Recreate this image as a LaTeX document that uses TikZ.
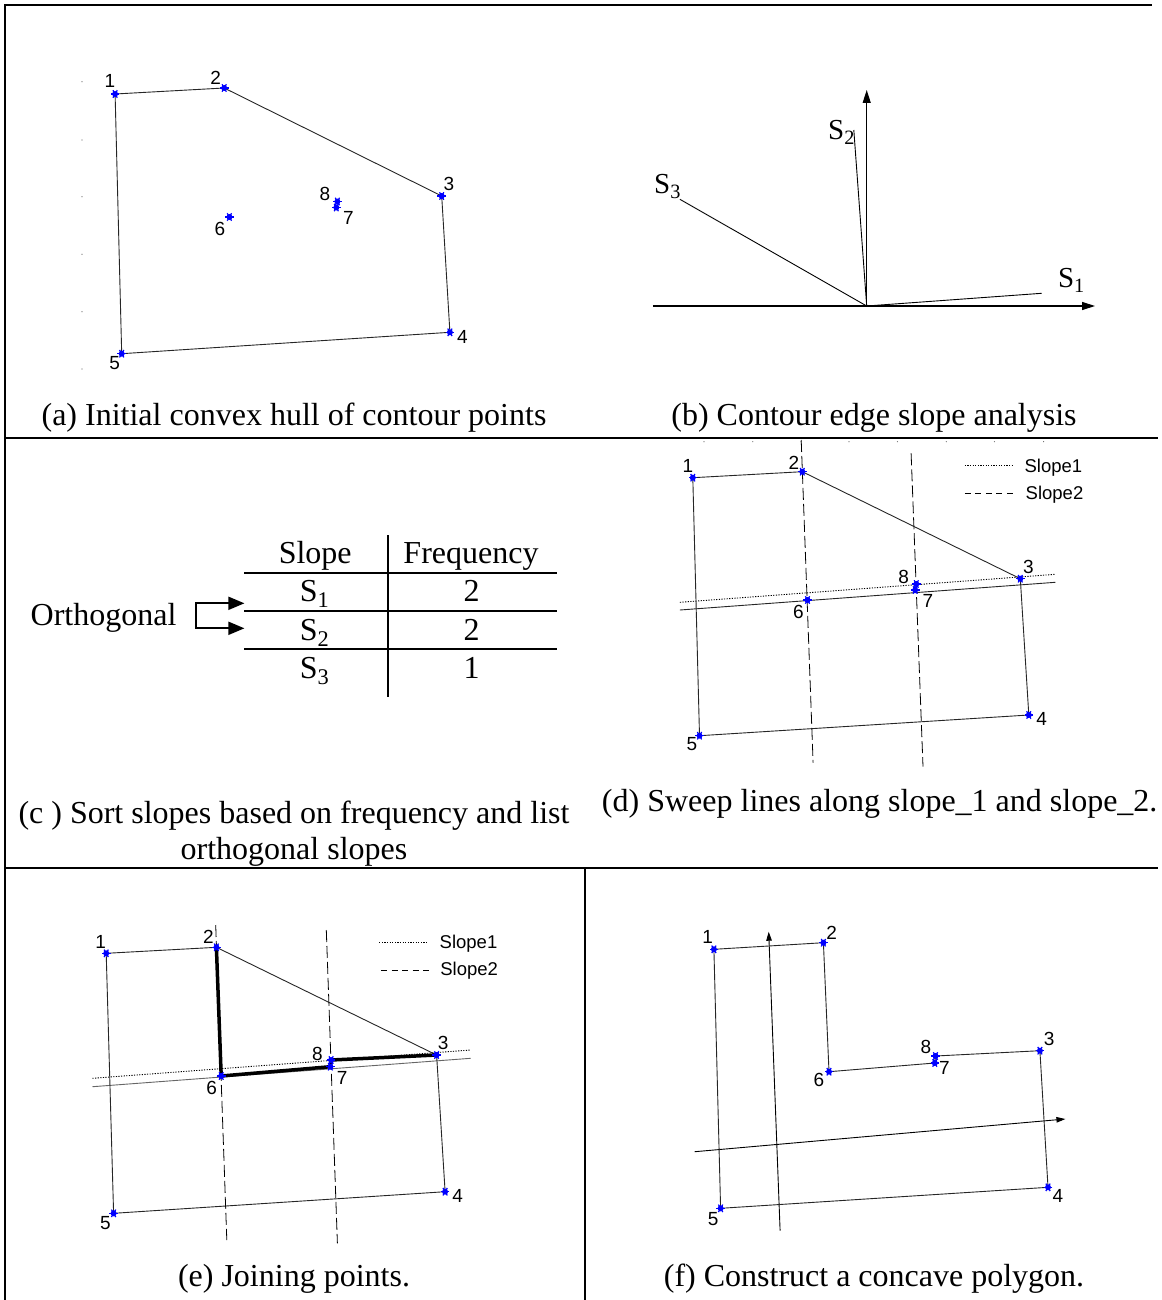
\documentclass[tikz,border=0pt]{standalone}
\usepackage{fontspec}
\setmainfont{Liberation Serif}
\newfontfamily\arialf{Liberation Sans}
\usetikzlibrary{arrows.meta,calc}
\tikzset{
  framel/.style={line width=2pt, black},
  hull/.style={line width=0.9pt, black!85},
  sweepdash/.style={line width=0.8pt, black, dash pattern=on 12pt off 4pt},
  slopedot/.style={line width=0.9pt, black, dash pattern=on 1.2pt off 1.4pt},
  legdash/.style={line width=0.9pt, black, dash pattern=on 6pt off 4.5pt},
  slopesolid/.style={line width=0.9pt, black!85},
  joinline/.style={line width=3.5pt, black},
  ptlab/.style={font=\arialf\fontsize{19}{19}\selectfont, inner sep=0pt},
  leglab/.style={font=\arialf\fontsize{18.5}{18.5}\selectfont, inner sep=0pt, anchor=base west},
  captxt/.style={font=\fontsize{32}{36}\selectfont, inner sep=0pt, anchor=base},
  tabtxt/.style={font=\fontsize{32}{36}\selectfont, inner sep=0pt, anchor=base},
  slab/.style={font=\fontsize{29}{32}\selectfont, inner sep=0pt, anchor=base west},
  tabline/.style={line width=1.8pt, black},
  axis/.style={line width=1.2pt, black, -{Triangle[length=13pt,width=8pt]}},
  thinax/.style={line width=0.9pt, black, -{Triangle[length=9pt,width=5.5pt]}},
  tick/.style={fill=black!60},
}
\newcommand{\mkdot}[1]{%
  \fill[blue] (#1) circle (3pt);
  \foreach \ang in {0,60,120}{\draw[blue,line width=1.2pt] ($(#1)+(\ang:4.3pt)$) -- ($(#1)+(\ang+180:4.3pt)$);}%
}
\begin{document}
\begin{tikzpicture}[x=1pt,y=-1pt]
\useasboundingbox (0,0) rectangle (1161,1300);
\fill[white] (0,0) rectangle (1161,1300);

% ---------- frame ----------
\draw[framel] (4,5.5) -- (1152,5.5);
\draw[framel] (5,4.5) -- (5,1300);
\draw[framel] (4,438) -- (1158,438);
\draw[framel] (4,867.5) -- (1158,867.5);
\draw[framel] (584.5,867.5) -- (584.5,1300);

% ---------- panel (a) ----------
\coordinate (a1) at (115.1,94);
\coordinate (a2) at (224.2,88);
\coordinate (a3) at (441.7,196);
\coordinate (a4) at (449.9,332.3);
\coordinate (a5) at (121.7,353.7);
\coordinate (a6) at (229.4,217);
\coordinate (a8) at (337.4,201.5);
\coordinate (a7) at (336.3,207.5);
\foreach \yy in {81.7,140,196.7,254.3,311.7,369}{\fill[tick] (82,\yy) circle (0.6pt);}
\draw[hull] (a1) -- (a2) -- (a3) -- (a4) -- (a5) -- cycle;
\foreach \p in {a1,a2,a3,a4,a5,a6,a7,a8}{\mkdot{\p}}
\node[ptlab] (la1) at (110,81) {1};
\node[ptlab] (la2) at (215.7,77.7) {2};
\node[ptlab] (la3) at (448.8,183.7) {3};
\node[ptlab] (la4) at (462.5,336.7) {4};
\node[ptlab] (la5) at (114.7,362.7) {5};
\node[ptlab] (la6) at (219.8,228.7) {6};
\node[ptlab] (la8) at (324.8,193.7) {8};
\node[ptlab] (la7) at (348.5,218.3) {7};
\node[captxt] (capa) at (294,425) {(a) Initial convex hull of contour points};

% ---------- panel (b) ----------
\coordinate (bo) at (866.7,306);
\coordinate (bxl) at (652.9,306);
\coordinate (bxr) at (1095,306);
\coordinate (byt) at (866.7,90);
\coordinate (bs1) at (1041.7,293.3);
\coordinate (bs2) at (853.8,130);
\coordinate (bs3) at (679.9,199.3);
\draw[axis] (bxl) -- (bxr);
\draw[axis] (bo) -- (byt);
\draw[line width=0.9pt] (bo) -- (bs1);
\draw[line width=0.9pt] (bo) -- (bs2);
\draw[line width=0.9pt] (bo) -- (bs3);
\node[slab] (ls2) at (828,140) {S\textsubscript{2}};
\node[slab] (ls3) at (654,193.3) {S\textsubscript{3}};
\node[slab] (ls1) at (1057.8,287.3) {S\textsubscript{1}};
\node[captxt] (capb) at (874,425) {(b) Contour edge slope analysis};

% ---------- panel (c) ----------
\coordinate (tvt) at (387.7,535);
\coordinate (tvb) at (387.7,696.7);
\coordinate (th1l) at (244.2,572.7); \coordinate (th1r) at (556.8,572.7);
\coordinate (th2l) at (244.2,611);   \coordinate (th2r) at (556.8,611);
\coordinate (th3l) at (244.2,649);   \coordinate (th3r) at (556.8,649);
\draw[tabline] (tvt) -- (tvb);
\draw[tabline] (th1l) -- (th1r);
\draw[tabline] (th2l) -- (th2r);
\draw[tabline] (th3l) -- (th3r);
\node[tabtxt] (hslope) at (315.2,563.3) {Slope};
\node[tabtxt] (hfreq) at (471,563.3) {Frequency};
\node[tabtxt] (r1s) at (314.5,601.7) {S\textsubscript{1}};
\node[tabtxt] (r1f) at (471.7,601.7) {2};
\node[tabtxt] (r2s) at (314.5,640) {S\textsubscript{2}};
\node[tabtxt] (r2f) at (471.7,640) {2};
\node[tabtxt] (r3s) at (314.5,678.3) {S\textsubscript{3}};
\node[tabtxt] (r3f) at (471.7,678.3) {1};
\node[tabtxt] (orth) at (103.6,625) {Orthogonal};
\coordinate (otip1) at (244.4,603.3);
\coordinate (ocor1) at (196.3,603.3);
\coordinate (ocor2) at (196.3,628.3);
\coordinate (otip2) at (244.4,628.3);
\draw[line width=1.8pt, {Triangle[length=16pt,width=13pt]}-{Triangle[length=16pt,width=13pt]}] (otip1) -- (ocor1) -- (ocor2) -- (otip2);
\node[captxt] (capc1) at (294,823.3) {(c ) Sort slopes based on frequency and list};
\node[captxt] (capc2) at (294,859.3) {orthogonal slopes};

% ---------- panel (d) ----------
\coordinate (d1) at (692.8,477.7);
\coordinate (d2) at (802.3,471.7);
\coordinate (d3) at (1020.3,578.7);
\coordinate (d4) at (1028.8,715);
\coordinate (d5) at (699.5,735.7);
\coordinate (d6) at (807.5,600);
\coordinate (d8) at (916.3,584);
\coordinate (d7) at (915.2,590);
\foreach \xx in {704,752.8,800.9,849,897.4,946.3,994.4,1043.6}{\fill[tick] (\xx,441.7) circle (0.6pt);}
\coordinate (dv1t) at (801.2,440); \coordinate (dv1b) at (813.1,762.7);
\coordinate (dv2t) at (911.1,453.3); \coordinate (dv2b) at (923,766.7);
\coordinate (dsl) at (679.9,610); \coordinate (dsr) at (1055.4,582.3);
\coordinate (ddl) at (679.9,602.3); \coordinate (ddr) at (1055.4,574.3);
\draw[sweepdash] (dv1t) -- (dv1b);
\draw[sweepdash] (dv2t) -- (dv2b);
\draw[slopesolid] (dsl) -- (dsr);
\draw[slopedot] (ddl) -- (ddr);
\draw[hull] (d1) -- (d2) -- (d3) -- (d4) -- (d5) -- cycle;
\foreach \p in {d1,d2,d3,d4,d5,d6,d7,d8}{\mkdot{\p}}
\node[ptlab] (ld1) at (688,465.7) {1};
\node[ptlab] (ld2) at (793.8,462.7) {2};
\node[ptlab] (ld3) at (1028.4,567) {3};
\node[ptlab] (ld4) at (1041.7,718.7) {4};
\node[ptlab] (ld5) at (692,744.3) {5};
\node[ptlab] (ld6) at (798.3,611.7) {6};
\node[ptlab] (ld8) at (903.7,576.7) {8};
\node[ptlab] (ld7) at (927.8,601.3) {7};
\coordinate (dl1a) at (964.8,465); \coordinate (dl1b) at (1012.1,465);
\coordinate (dl2a) at (964.8,493.3); \coordinate (dl2b) at (1014.7,493.3);
\draw[slopedot] (dl1a) -- (dl1b);
\draw[legdash] (dl2a) -- (dl2b);
\node[leglab] (dlt1) at (1024.4,472) {Slope1};
\node[leglab] (dlt2) at (1025.5,499.5) {Slope2};
\node[captxt] (capd) at (879.7,811.7) {(d) Sweep lines along slope\_1 and slope\_2.};

% ---------- panel (e) ----------
\coordinate (e1) at (106.2,953.3);
\coordinate (e2) at (216.4,947.3);
\coordinate (e3) at (436.6,1055);
\coordinate (e4) at (445.1,1191.7);
\coordinate (e5) at (113.6,1213.3);
\coordinate (e6) at (221.2,1076);
\coordinate (e8) at (331.1,1060);
\coordinate (e7) at (330.4,1066.7);
\coordinate (ev1t) at (215.7,925); \coordinate (ev1b) at (226.8,1240);
\coordinate (ev2t) at (326.3,930); \coordinate (ev2b) at (337.4,1243.3);
\coordinate (esl) at (92.5,1086.7); \coordinate (esr) at (470.6,1058.3);
\coordinate (edl) at (92.5,1078.3); \coordinate (edr) at (470.6,1050);
\draw[sweepdash] (ev1t) -- (ev1b);
\draw[sweepdash] (ev2t) -- (ev2b);
\draw[slopesolid, black!60] (esl) -- (esr);
\draw[slopedot] (edl) -- (edr);
\draw[hull] (e1) -- (e2) -- (e3) -- (e4) -- (e5) -- cycle;
\draw[joinline] (e2) -- (e6) -- (e7) -- (e8) -- (e3);
\foreach \p in {e1,e2,e3,e4,e5,e6,e7,e8}{\mkdot{\p}}
\node[ptlab] (le1) at (100.6,942.3) {1};
\node[ptlab] (le2) at (208.3,937.3) {2};
\node[ptlab] (le3) at (443.2,1043.3) {3};
\node[ptlab] (le4) at (457.6,1196) {4};
\node[ptlab] (le5) at (105.4,1222.7) {5};
\node[ptlab] (le6) at (211.6,1088.3) {6};
\node[ptlab] (le8) at (317.4,1054) {8};
\node[ptlab] (le7) at (342.2,1078.3) {7};
\coordinate (el1a) at (379.2,942.7); \coordinate (el1b) at (427.3,942.7);
\coordinate (el2a) at (381,970); \coordinate (el2b) at (429.2,970);
\draw[slopedot] (el1a) -- (el1b);
\draw[legdash] (el2a) -- (el2b);
\node[leglab] (elt1) at (439.5,948.5) {Slope1};
\node[leglab] (elt2) at (440.2,975.7) {Slope2};
\node[captxt] (cape) at (294,1286.7) {(e) Joining points.};

% ---------- panel (f) ----------
\coordinate (f1) at (713.9,949.3);
\coordinate (f2) at (823.4,942.7);
\coordinate (f3) at (1039.9,1050.7);
\coordinate (f4) at (1048,1187.3);
\coordinate (f5) at (720.6,1208.3);
\coordinate (f6) at (829,1071.7);
\coordinate (f8) at (935.5,1056);
\coordinate (f7) at (934.8,1063);
\coordinate (fvb) at (780.1,1230.7); \coordinate (fvt) at (768.7,931.7);
\coordinate (fhl) at (694.7,1151.7); \coordinate (fhr) at (1065.4,1119);
\draw[thinax] (fvb) -- (fvt);
\draw[thinax] (fhl) -- (fhr);
\draw[hull] (f1) -- (f2) -- (f6) -- (f7) -- (f8) -- (f3) -- (f4) -- (f5) -- cycle;
\foreach \p in {f1,f2,f3,f4,f5,f6,f7,f8}{\mkdot{\p}}
\node[ptlab] (lf1) at (707.6,936.7) {1};
\node[ptlab] (lf2) at (831.6,933.3) {2};
\node[ptlab] (lf3) at (1049.1,1039.3) {3};
\node[ptlab] (lf4) at (1058,1196) {4};
\node[ptlab] (lf5) at (713.2,1219.3) {5};
\node[ptlab] (lf6) at (819,1080) {6};
\node[ptlab] (lf8) at (925.9,1046.7) {8};
\node[ptlab] (lf7) at (944.4,1068.3) {7};
\node[captxt] (capf) at (874,1286.7) {(f) Construct a concave polygon.};
\end{tikzpicture}
\end{document}
